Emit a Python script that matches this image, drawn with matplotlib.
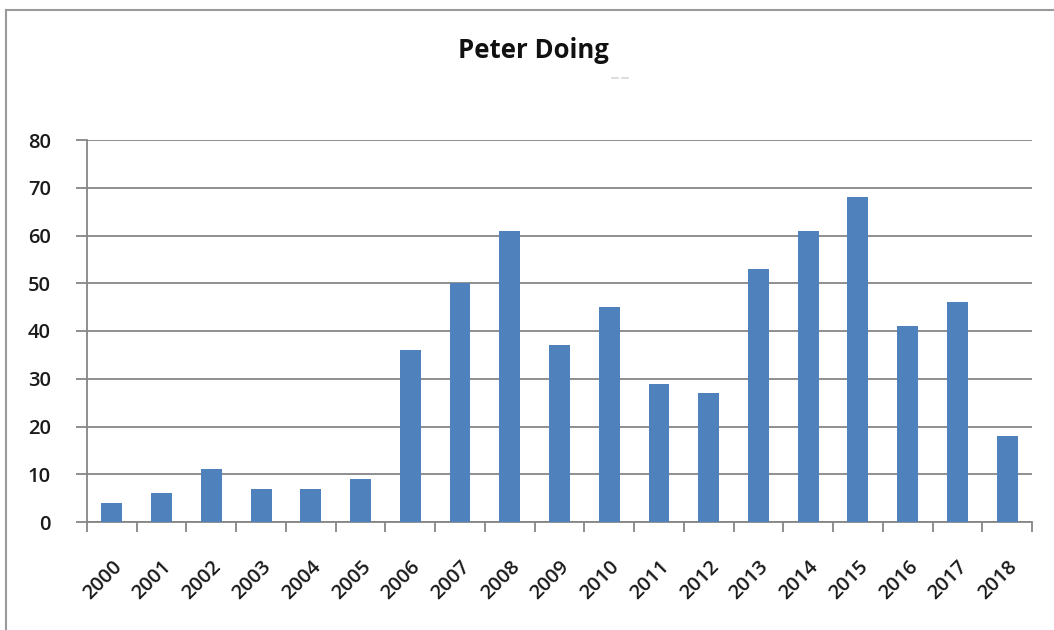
import matplotlib
matplotlib.use("Agg")
import matplotlib.pyplot as plt
from matplotlib import font_manager
from matplotlib.lines import Line2D

years = [str(y) for y in range(2000, 2019)]
values = [4, 6, 11, 7, 7, 9, 36, 50, 61, 37, 45, 29, 27, 53, 61, 68, 41, 46, 18]
y_ticks = [0, 10, 20, 30, 40, 50, 60, 70, 80]
title = "Peter Doing"

installed = {f.name for f in font_manager.fontManager.ttflist}
family = next((f for f in ["Open Sans", "Lato", "DejaVu Sans"] if f in installed), "DejaVu Sans")
plt.rcParams["font.family"] = [family, "DejaVu Sans"]

bar_color = "#4F81BD"
axis_gray = "#868686"
label_color = "#1a1a1a"

fig = plt.figure(figsize=(10.54, 6.3), dpi=100)
ax = fig.add_axes([87 / 1054, 1 - 522 / 630, (1032 - 87) / 1054, (522 - 140) / 630])

x = list(range(len(years)))
ax.bar(x, values, width=0.42, color=bar_color, zorder=3)

ax.set_xlim(-0.5, len(years) - 0.5)
ax.set_ylim(0, 80)
ax.set_yticks(y_ticks)
ax.yaxis.grid(True, color=axis_gray, linewidth=1.3, zorder=0)
ax.set_axisbelow(True)

for s in ["top", "right"]:
    ax.spines[s].set_visible(False)
for s in ["left", "bottom"]:
    ax.spines[s].set_color(axis_gray)
    ax.spines[s].set_linewidth(1.3)

# category labels centred on bars, tick marks between categories
ax.set_xticks(x)
ax.set_xticklabels(years, rotation=45, ha="right", rotation_mode="anchor",
                   fontsize=14.5, color=label_color, fontweight="semibold")
ax.tick_params(axis="x", length=0, pad=25)
ax.set_xticks([i - 0.5 for i in range(len(years) + 1)], minor=True)
ax.tick_params(axis="x", which="minor", length=7, width=1.3, color=axis_gray)

ax.tick_params(axis="y", length=8, width=1.3, color=axis_gray, pad=18,
               labelsize=14.5, labelcolor=label_color)
for lbl in ax.get_yticklabels():
    lbl.set_fontweight("semibold")

fig.text(533 / 1054, 1 - 50 / 630, title, ha="center", va="center",
         fontsize=18.5, fontweight="bold", color="#111111")

# faint dashes beneath the title
for x0 in (612, 622):
    fig.add_artist(Line2D([x0 / 1054, (x0 + 6) / 1054], [1 - 78 / 630, 1 - 78 / 630],
                          transform=fig.transFigure, color="#d8d8d8", linewidth=1.2))

# chart area border
fig.add_artist(Line2D([6 / 1054, 6 / 1054], [0, 1 - 10 / 630],
                      transform=fig.transFigure, color="#9a9a9a", linewidth=1.5))
fig.add_artist(Line2D([6 / 1054, 1], [1 - 10 / 630, 1 - 10 / 630],
                      transform=fig.transFigure, color="#9a9a9a", linewidth=1.5))

fig.savefig("out.png", dpi=100, facecolor="white")
